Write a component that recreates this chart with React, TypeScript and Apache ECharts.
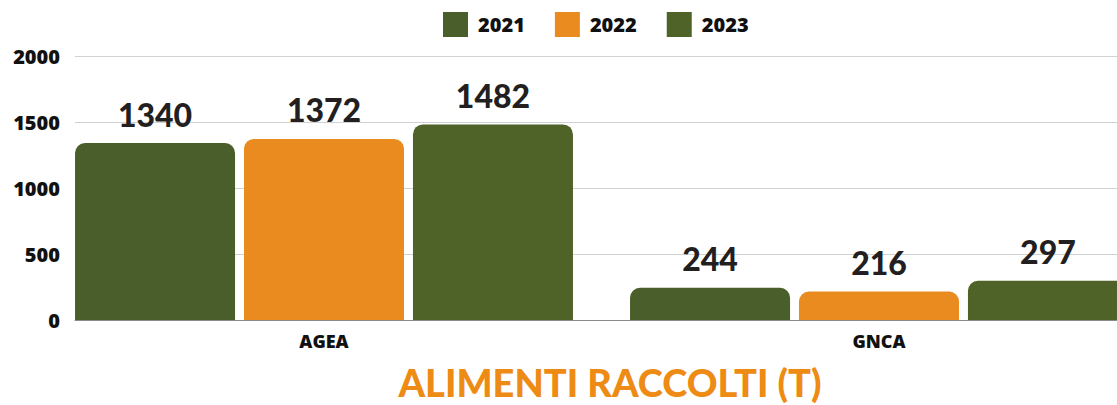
import React, { useEffect, useRef } from "react";
import * as echarts from "echarts";

const categories = ["AGEA", "GNCA"];
const seriesNames = ["2021", "2022", "2023"];
const values2021 = [1340, 244];
const values2022 = [1372, 216];
const values2023 = [1482, 297];
const yTicks = [0, 500, 1000, 1500, 2000];
const titleText = "ALIMENTI RACCOLTI (T)";

const colors = ["#495e2a", "#e98b1f", "#4f6227"];

const CHART_W = 1160;

export default function App() {
  const ref = useRef<HTMLDivElement>(null);
  useEffect(() => {
    if (!ref.current) return;
    const chart = echarts.init(ref.current, undefined, { renderer: "svg" });
    const data = [values2021, values2022, values2023];
    const labelFont = "'Lato', 'Noto Sans', sans-serif";
    chart.setOption({
      animation: false,
      backgroundColor: "#ffffff",
      legend: {
        left: 438,
        top: 7,
        itemWidth: 25,
        itemHeight: 25,
        itemGap: 30,
        icon: "rect",
        data: seriesNames,
        textStyle: {
          fontFamily: "'Open Sans', sans-serif",
          fontWeight: 800,
          fontSize: 20,
          color: "#111",
          padding: [0, 0, 0, 5],
        },
      },
      grid: [
        { left: 75, right: CHART_W - 1117, top: 56, height: 264 },
        { left: 46.5, width: 1110, top: 56, height: 264 },
      ],
      xAxis: [
        {
          gridIndex: 0,
          type: "category",
          data: [""],
          axisLine: { show: true, lineStyle: { color: "#8a8a8a", width: 1 } },
          axisTick: { show: false },
          axisLabel: { show: false },
        },
        {
          gridIndex: 1,
          type: "category",
          data: categories,
          axisLine: { show: false },
          axisTick: { show: false },
          axisLabel: {
            margin: 12,
            fontFamily: "'Open Sans', sans-serif",
            fontWeight: 800,
            fontSize: 18,
            color: "#111",
          },
        },
      ],
      yAxis: [
        {
          gridIndex: 0,
          type: "value",
          min: 0,
          max: 2000,
          interval: 500,
          axisLine: { show: false },
          axisTick: { show: false },
          splitLine: { lineStyle: { color: "#d2d2d2", width: 1 } },
          axisLabel: {
            margin: 15,
            fontFamily: "'Open Sans', sans-serif",
            fontWeight: 800,
            fontSize: 20,
            color: "#111",
            formatter: (v: number) => (yTicks.includes(v) ? String(v) : ""),
          },
        },
        {
          gridIndex: 1,
          type: "value",
          min: 0,
          max: 2000,
          show: false,
          splitLine: { show: false },
        },
      ],
      series: seriesNames.map((name, i) => ({
        name,
        type: "bar",
        xAxisIndex: 1,
        yAxisIndex: 1,
        data: data[i],
        barWidth: 160,
        barGap: "5.6%",
        itemStyle: { color: colors[i], borderRadius: [10, 10, 0, 0] },
        label: {
          show: true,
          position: "top",
          distance: 13,
          fontFamily: labelFont,
          fontWeight: 900,
          fontSize: 32,
          color: "#231f20",
        },
      })),
      graphic: [
        {
          type: "text",
          x: 610,
          y: 382,
          style: {
            text: titleText,
            align: "center",
            verticalAlign: "middle",
            fontFamily: labelFont,
            fontWeight: 900,
            fontSize: 38,
            fill: "#ed8b14",
          },
        },
      ],
    });
    return () => chart.dispose();
  }, []);
  return (
    <div
      style={{
        position: "absolute",
        left: 0,
        top: 0,
        width: 1117,
        height: 405,
        overflow: "hidden",
      }}
    >
      <div ref={ref} style={{ width: CHART_W, height: 405 }} />
    </div>
  );
}
